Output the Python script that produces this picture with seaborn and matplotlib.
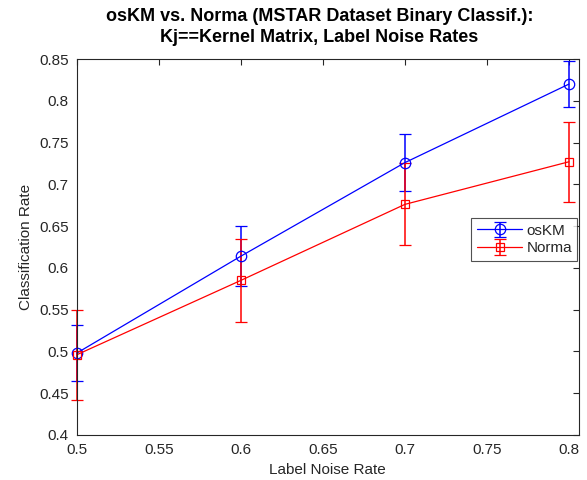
import matplotlib
matplotlib.use("Agg")
import matplotlib.pyplot as plt
import seaborn as sns
import numpy as np
import pandas as pd

# data
noise_rate = [0.5, 0.6, 0.7, 0.8]
oskm_mean = [0.498, 0.614, 0.726, 0.820]
oskm_err = [0.033, 0.036, 0.034, 0.028]
norma_mean = [0.496, 0.585, 0.676, 0.727]
norma_err = [0.054, 0.050, 0.049, 0.048]

x_ticks = [0.5, 0.55, 0.6, 0.65, 0.7, 0.75, 0.8]
y_ticks = [0.4, 0.45, 0.5, 0.55, 0.6, 0.65, 0.7, 0.75, 0.8, 0.85]

df = pd.DataFrame({
    'rate': noise_rate * 2,
    'mean': oskm_mean + norma_mean,
    'err': oskm_err + norma_err,
    'method': ['osKM'] * 4 + ['Norma'] * 4,
})

sns.set_style("white")
plt.rcParams['font.family'] = ['Liberation Sans', 'DejaVu Sans']

fig = plt.figure(figsize=(5.87, 4.8), dpi=100)
ax = fig.add_axes([0.131, 0.094, 0.855, 0.783])

styles = {'osKM': ('blue', 'o', 7.5), 'Norma': ('red', 's', 6)}
for name, (col, mk, ms) in styles.items():
    sub = df[df['method'] == name]
    cont = ax.errorbar(sub['rate'], sub['mean'], yerr=sub['err'], color=col,
                       marker=mk, markersize=ms, markerfacecolor='none',
                       markeredgewidth=0.9, linewidth=0.9, elinewidth=1.1,
                       capsize=4.5, capthick=1.1, label=name)
    # bars at the axis edge are not clipped in the original
    for art in cont.lines[1] + cont.lines[2] + (cont.lines[0],):
        art.set_clip_on(False)

ax.set_xlim(0.5, 0.806)
ax.set_ylim(0.4, 0.85)
ax.set_xticks(x_ticks)
ax.set_xticklabels([f"{t:g}" for t in x_ticks])
ax.set_yticks(y_ticks)
ax.set_yticklabels([f"{t:g}" for t in y_ticks])
ax.tick_params(direction='in', length=4, width=0.8, top=True, right=True,
               labelsize=11, colors='#262626', pad=6)
for s in ax.spines.values():
    s.set_color('#262626')
    s.set_linewidth(0.8)

ax.set_xlabel('Label Noise Rate', fontsize=11, color='#262626', labelpad=4)
ax.set_ylabel('Classification Rate', fontsize=11, color='#262626', labelpad=4)
ax.set_title('osKM vs. Norma (MSTAR Dataset Binary Classif.):\nKj==Kernel Matrix, Label Noise Rates',
             fontsize=13, fontweight='bold', color='black', pad=12, linespacing=1.3,
             x=0.483)

leg = ax.legend(loc='center right', bbox_to_anchor=(1.0, 0.52), fontsize=11,
                frameon=True, fancybox=False, edgecolor='#262626',
                handlelength=3.0, handletextpad=0.25, borderpad=0.35,
                labelspacing=0.25, borderaxespad=0.1)
leg.get_frame().set_linewidth(0.8)

fig.savefig('out.png', dpi=100)
